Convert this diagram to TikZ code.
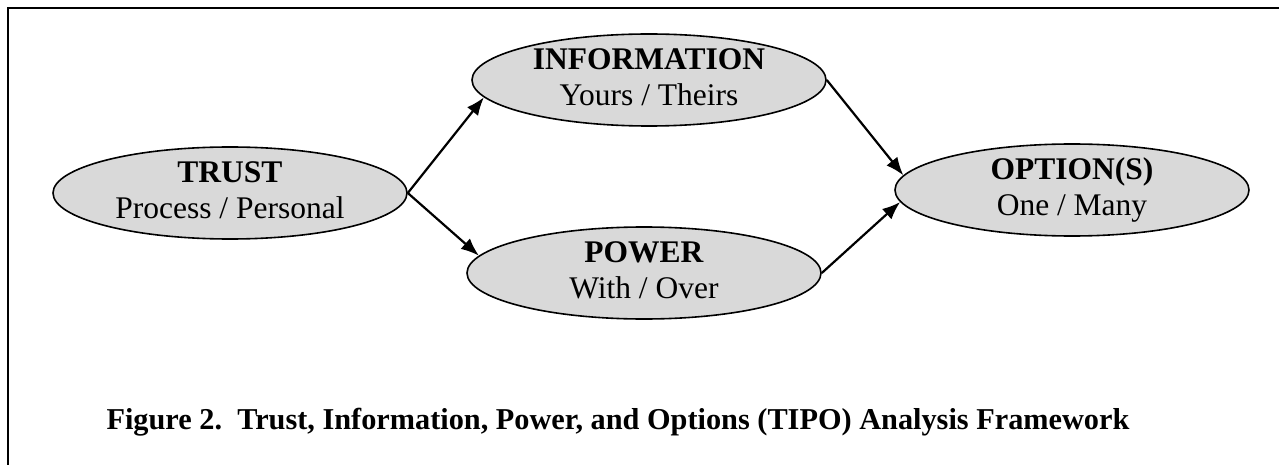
\documentclass[tikz,border=0pt]{standalone}
\usepackage{fontspec}
\setmainfont{Liberation Serif}
\usetikzlibrary{shapes.geometric,arrows.meta}
\definecolor{ellfill}{HTML}{D9D9D9}
\newcommand{\lstrut}{\rule[-10.8pt]{0pt}{36pt}}
\begin{document}
\begin{tikzpicture}[x=1pt,y=-1pt,
  oval/.style={ellipse,draw=black,line width=1.6pt,fill=ellfill,minimum width=354pt,minimum height=92pt,inner xsep=0pt,inner ysep=-8pt,align=center,font=\fontsize{31.5}{36}\selectfont},
  conn/.style={line width=2.2pt,-{Latex[length=18pt,width=14pt]}}]
\useasboundingbox (0,0) rectangle (1279,465);
\draw[line width=2.5pt] (8,465) -- (8,8) -- (1279,8);
\node[oval] (trust) at (230,193) {\lstrut\textbf{TRUST}\\\lstrut Process / Personal};
\node[oval] (info) at (649,80) {\lstrut\textbf{INFORMATION}\\\lstrut Yours / Theirs};
\node[oval] (power) at (644,273) {\lstrut\textbf{POWER}\\\lstrut With / Over};
\node[oval] (opt) at (1072,190) {\lstrut\textbf{OPTION(S)}\\\lstrut One / Many};
\draw[conn] (trust.east) -- (info.186);
\draw[conn] (trust.east) -- (power.174);
\draw[conn] (info.east) -- (opt.175);
\draw[conn] (power.east) -- (opt.184);
\node[font=\fontsize{30.3}{36}\selectfont\bfseries,anchor=base] (cap) at (618,429) {Figure 2.\ \ Trust, Information, Power, and Options (TIPO) Analysis Framework};
\end{tikzpicture}
\end{document}
